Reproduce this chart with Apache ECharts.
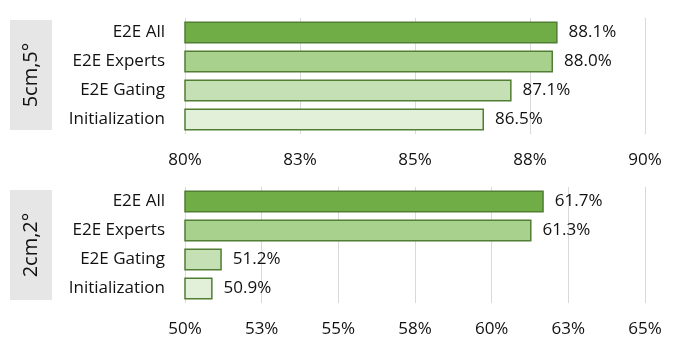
<!DOCTYPE html>
<html>
<head>
<meta charset="utf-8">
<script src="https://cdn.jsdelivr.net/npm/echarts@6/dist/echarts.min.js"></script>
<style>
    html, body { margin: 0; padding: 0; background: #fff; }
    #chart { width: 678px; height: 344px; }
</style>
</head>
<body>
<div id="chart"></div>
<script type="text/javascript">
    // categories, top to bottom
    var methods = ['E2E All', 'E2E Experts', 'E2E Gating', 'Initialization'];
    var barColors = ['#70ad47', '#a9d18e', '#c5e0b4', '#e2f0d9'];

    // panel names
    var panelNames = ['5cm,5°', '2cm,2°'];

    // accuracy (%)
    var acc5cm = [88.1, 88.0, 87.1, 86.5];
    var acc2cm = [61.7, 61.3, 51.2, 50.9];

    // x axis ticks
    var ticks5cm = [80, 82.5, 85, 87.5, 90];
    var tickLabels5cm = ['80%', '83%', '85%', '88%', '90%'];
    var ticks2cm = [50, 52.5, 55, 57.5, 60, 62.5, 65];
    var tickLabels2cm = ['50%', '53%', '55%', '58%', '60%', '63%', '65%'];

    var font = 'Open Sans';
    var myChart = echarts.init(document.getElementById('chart'));

    function xAxisOf(idx, ticks, labels) {
        return {
            type: 'value',
            gridIndex: idx,
            min: ticks[0],
            max: ticks[ticks.length - 1],
            interval: ticks[1] - ticks[0],
            axisLine: {show: false},
            axisTick: {show: false},
            splitLine: {lineStyle: {color: '#d9d9d9', width: 1}},
            axisLabel: {
                margin: 18,
                fontFamily: font,
                fontSize: 17,
                color: '#111',
                formatter: function (v) {
                    var i = ticks.indexOf(v);
                    return i >= 0 ? labels[i] : '';
                }
            }
        };
    }

    function yAxisOf(idx) {
        return {
            type: 'category',
            gridIndex: idx,
            inverse: true,
            data: methods,
            axisLine: {show: false},
            axisTick: {show: false},
            axisLabel: {margin: 20, fontFamily: font, fontSize: 17, color: '#111'}
        };
    }

    function seriesOf(idx, values) {
        return {
            type: 'bar',
            xAxisIndex: idx,
            yAxisIndex: idx,
            barWidth: 22,
            data: values.map(function (v, i) {
                return {value: v, itemStyle: {color: barColors[i]}};
            }),
            itemStyle: {borderColor: '#507e32', borderWidth: 1.5},
            label: {
                show: true,
                position: 'right',
                distance: 11,
                fontFamily: font,
                fontSize: 17,
                color: '#111',
                formatter: function (p) { return p.value.toFixed(1) + '%'; }
            }
        };
    }

    function panelLabel(name, top) {
        return {
            type: 'group',
            left: 10,
            top: top,
            children: [{
                type: 'rect',
                shape: {x: 0, y: 0, width: 42, height: 110},
                style: {fill: '#e7e6e6'}
            }, {
                type: 'text',
                x: 21,
                y: 55,
                rotation: Math.PI / 2,
                style: {
                    text: name,
                    fontFamily: font,
                    fontSize: 20,
                    fill: '#111',
                    align: 'center',
                    verticalAlign: 'middle'
                }
            }]
        };
    }

    var option = {
        animation: false,
        grid: [
            {left: 185, right: 33, top: 18, height: 116},
            {left: 185, right: 33, top: 187, height: 116}
        ],
        xAxis: [xAxisOf(0, ticks5cm, tickLabels5cm), xAxisOf(1, ticks2cm, tickLabels2cm)],
        yAxis: [yAxisOf(0), yAxisOf(1)],
        series: [seriesOf(0, acc5cm), seriesOf(1, acc2cm)],
        graphic: [panelLabel(panelNames[0], 20), panelLabel(panelNames[1], 190)]
    };

    myChart.setOption(option);
</script>
</body>
</html>
